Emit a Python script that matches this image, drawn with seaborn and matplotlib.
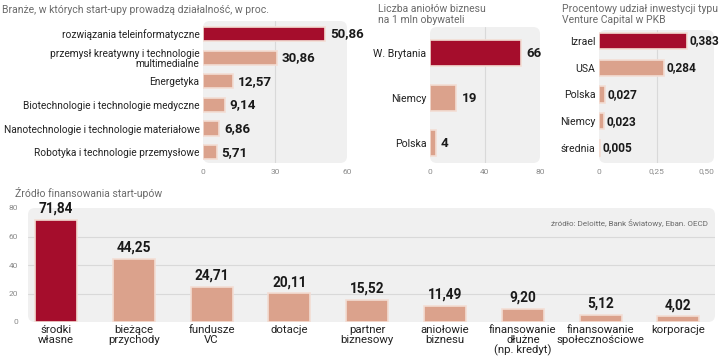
import matplotlib
matplotlib.use("Agg")
import matplotlib.pyplot as plt
import seaborn as sns
import pandas as pd
from matplotlib.patches import FancyBboxPatch

# ---- data ----
branze_cats = ["rozwiązania teleinformatyczne",
               "przemysł kreatywny i technologie\nmultimedialne",
               "Energetyka",
               "Biotechnologie i technologie medyczne",
               "Nanotechnologie i technologie materiałowe",
               "Robotyka i technologie przemysłowe"]
branze_vals = [50.86, 30.86, 12.57, 9.14, 6.86, 5.71]

aniol_cats = ["W. Brytania", "Niemcy", "Polska"]
aniol_vals = [66, 19, 4]

vc_cats = ["Izrael", "USA", "Polska", "Niemcy", "średnia"]
vc_vals = [0.383, 0.284, 0.027, 0.023, 0.005]

fin_cats = ["środki\nwłasne", "bieżące\nprzychody", "fundusze\nVC", "dotacje",
            "partner\nbiznesowy", "aniołowie\nbiznesu", "finansowanie\ndłużne\n(np. kredyt)",
            "finansowanie\nspołecznościowe", "korporacje"]
fin_vals = [71.84, 44.25, 24.71, 20.11, 15.52, 11.49, 9.20, 5.12, 4.02]

sns.set_theme(style="white")
plt.rcParams['font.family'] = ['Roboto', 'DejaVu Sans']

DARK = "#a50d2c"
LIGHT = "#dba28c"
EDGE = "#f3ddd4"
BG = "#f0f0f0"
GRID = "#d9d9d9"
VALFONT = ['Roboto', 'DejaVu Sans']

W, H = 720, 357
fig = plt.figure(figsize=(7.2, 3.57), dpi=100)


def px_axes(x0, x1, ytop, ybot):
    return fig.add_axes([x0 / W, 1 - ybot / H, (x1 - x0) / W, (ybot - ytop) / H])


def style_bg(ax, wpx, hpx, r=7):
    ax.patch.set_visible(False)
    for s in ax.spines.values():
        s.set_visible(False)
    p = FancyBboxPatch((0, 0), 1, 1, boxstyle=f"round,pad=0,rounding_size={r / wpx}",
                       mutation_aspect=wpx / hpx, transform=ax.transAxes,
                       facecolor=BG, edgecolor="none", zorder=-10, clip_on=False)
    ax.add_patch(p)


def fmt(v, nd):
    return f"{v:.{nd}f}".replace(".", ",")


def hbar(ax, cats, vals, xlim, ticks, ticklabels, ylim, bw, nd, wpx, hpx, off,
         fs=7.4, vfs=9.6):
    colors = [DARK] + [LIGHT] * (len(cats) - 1)
    df = pd.DataFrame({"c": cats, "v": vals})
    sns.barplot(data=df, x="v", y="c", hue="c", palette=colors, legend=False, ax=ax,
                orient="h", width=bw, edgecolor=EDGE, linewidth=1.2, zorder=3,
                saturation=1)
    style_bg(ax, wpx, hpx)
    ax.set_xlim(*xlim)
    ax.set_ylim(*ylim)
    ax.set_xticks(ticks)
    ax.set_xticklabels(ticklabels, fontsize=6, color="#8a8a8a")
    for t in ticks[1:-1]:
        ax.axvline(t, color=GRID, lw=0.8, zorder=1)
    ax.tick_params(axis="x", length=0, pad=4)
    ax.tick_params(axis="y", length=0, pad=2.5)
    ax.set_yticks(range(len(cats)))
    ax.set_yticklabels(cats, fontsize=fs, color="#222222", linespacing=1.0)
    ax.set_xlabel("")
    ax.set_ylabel("")
    for i, v in enumerate(vals):
        ax.annotate(fmt(v, nd), (v, i), xytext=(off, 0), textcoords="offset points",
                    va="center", ha="left", fontsize=vfs, fontweight="bold",
                    color="#1a1a1a", family=VALFONT, clip_on=False)


# Panel 1
ax1 = px_axes(203, 347, 21, 163)
hbar(ax1, branze_cats, branze_vals, (0, 60), [0, 30, 60], ["0", "30", "60"],
     (5.46, -0.55), 0.6, 2, 144, 142, 3.5, fs=7.3)
fig.text(2 / W, 1 - 10 / H, "Branże, w których start-upy prowadzą działalność, w proc.",
         fontsize=7.5, color="#6a6a6a", va="center", ha="left")

# Panel 2
ax2 = px_axes(430, 540, 27, 163)
hbar(ax2, aniol_cats, aniol_vals, (0, 80), [0, 40, 80], ["0", "40", "80"],
     (2.44, -0.58), 0.58, 0, 110, 136, 4, fs=7.6)
fig.text(378 / W, 1 - 4 / H, "Liczba aniołów biznesu\nna 1 mln obywateli",
         fontsize=7.5, color="#6a6a6a", va="top", ha="left", linespacing=1.15)

# Panel 3
ax3 = px_axes(599, 714, 30, 163)
hbar(ax3, vc_cats, vc_vals, (0, 0.5), [0, 0.25, 0.5], ["0", "0,25", "0,50"],
     (4.56, -0.41), 0.6, 3, 115, 133, 1.5, fs=7.6, vfs=8.6)
ax3.get_xticklabels()[-1].set_horizontalalignment("right")
ax3.get_xticklabels()[-1].set_x(0.5)
fig.text(562 / W, 1 - 4 / H, "Procentowy udział inwestycji typu\nVenture Capital w PKB",
         fontsize=7.5, color="#6a6a6a", va="top", ha="left", linespacing=1.15)

# Bottom panel
ax4 = px_axes(28, 715, 208, 322)
df4 = pd.DataFrame({"c": fin_cats, "v": fin_vals})
sns.barplot(data=df4, x="c", y="v", hue="c", palette=[DARK] + [LIGHT] * 8, legend=False,
            ax=ax4, width=0.54, edgecolor=EDGE, linewidth=1.2, zorder=3, saturation=1)
style_bg(ax4, 687, 114)
ax4.set_xlim(-0.36, 8.47)
ax4.set_ylim(0, 80)
ax4.set_yticks([0, 20, 40, 60, 80])
ax4.set_yticklabels(["0", "20", "40", "60", "80"], fontsize=6, color="#8a8a8a")
for t in [20, 40, 60]:
    ax4.axhline(t, color=GRID, lw=0.8, zorder=1)
ax4.tick_params(axis="y", length=0, pad=7)
ax4.tick_params(axis="x", length=0, pad=2)
ax4.set_xticks(range(len(fin_cats)))
ax4.set_xticklabels(fin_cats, fontsize=8.2, color="#222222", linespacing=1.0, va="top")
ax4.set_xlabel("")
ax4.set_ylabel("")
for i, v in enumerate(fin_vals):
    ax4.annotate(fmt(v, 2), (i, v), xytext=(0, 3), textcoords="offset points",
                 va="bottom", ha="center", fontsize=9.8, fontweight="bold",
                 color="#1a1a1a", family=VALFONT, clip_on=False)
fig.text(15 / W, 1 - 193 / H, "Źródło finansowania start-upów",
         fontsize=7.5, color="#6a6a6a", va="center", ha="left")
fig.text(708 / W, 1 - 223 / H, "źródło: Deloitte, Bank Światowy, Eban. OECD",
         fontsize=5.8, color="#6a6a6a", va="center", ha="right")

fig.savefig("out.png", dpi=100)
